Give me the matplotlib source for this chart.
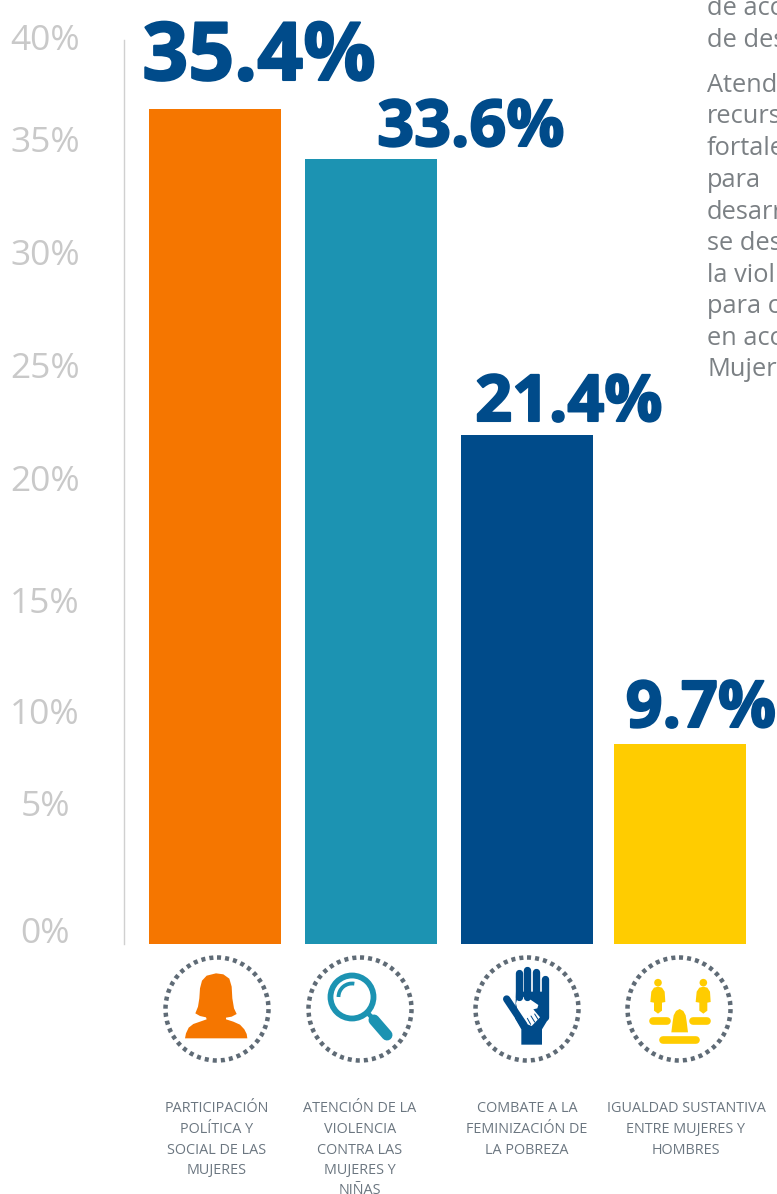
import matplotlib

matplotlib.use("Agg")
import matplotlib.pyplot as plt
import matplotlib.patheffects as pe
from matplotlib.patches import Circle, Polygon, Arc

W, H = 777, 1194
PT = 0.72  # pixels to points at dpi 100

# --------------------------- DATA --------------------------- #

value_labels = ["35.4%", "33.6%", "21.4%", "9.7%"]
# heights as drawn in the picture (the axis is not regular)
bar_heights = [35.4, 33.26, 21.56, 8.47]
bar_colors = ["#f57600", "#1c93b2", "#004b8a", "#ffcc00"]
bar_x = [215, 371, 527, 680]
bar_w = 132

tick_labels = ["40%", "35%", "30%", "25%", "20%", "15%", "10%", "5%", "0%"]
tick_rows = [37, 139, 252, 365, 478, 600, 711, 803, 930]

categories = [
    "PARTICIPACIÓN\nPOLÍTICA Y\nSOCIAL DE LAS\nMUJERES",
    "ATENCIÓN DE LA\nVIOLENCIA\nCONTRA LAS\nMUJERES Y\nNIÑAS",
    "COMBATE A LA\nFEMINIZACIÓN DE\nLA POBREZA",
    "IGUALDAD SUSTANTIVA\nENTRE MUJERES Y\nHOMBRES",
]
category_x = [217, 360, 527, 686]

# the paragraph runs off the right edge of the picture, only these pieces show
side_text = [
    ("de acc", 15),
    ("de des", 47),
    ("Atend", 92),
    ("recurs", 123),
    ("fortale", 155),
    ("para", 187),
    ("desarr", 219),
    ("se des", 250),
    ("la viol", 282),
    ("para c", 313),
    ("en acc", 345),
    ("Mujer", 376),
]

BASE_ROW = 944
PX_PER_PCT = 23.6
BLUE = "#004b8a"
GRID = "#5f6b76"

plt.rcParams["font.family"] = ["Open Sans", "DejaVu Sans"]

fig = plt.figure(figsize=(W / 100, H / 100), dpi=100)

# --------------------------- BARS --------------------------- #

ax = fig.add_axes([124 / W, 1 - BASE_ROW / H, 1 - 124 / W, (BASE_ROW - 30) / H])
ax.patch.set_alpha(0)
ax.set_xlim(124, W)
ax.set_ylim(0, (BASE_ROW - 30) / PX_PER_PCT)
ax.bar(bar_x, bar_heights, width=bar_w, color=bar_colors)

for side in ["top", "right", "bottom"]:
    ax.spines[side].set_visible(False)
ax.spines["left"].set_color("#d0d0d0")
ax.spines["left"].set_linewidth(1)
ax.spines["left"].set_bounds(0, (BASE_ROW - 40) / PX_PER_PCT)
ax.set_xticks([])
ax.set_yticks([(BASE_ROW - r) / PX_PER_PCT for r in tick_rows], tick_labels)
ax.tick_params(axis="y", length=0, pad=79 * PT, labelsize=25.5, labelcolor="#c9c9c9")
for lab in ax.get_yticklabels():
    lab.set_ha("center")

# --------------------------- OVERLAY (pixel coordinates) --------------------------- #

ov = fig.add_axes([0, 0, 1, 1])
ov.set_xlim(0, W)
ov.set_ylim(H, 0)
ov.axis("off")
ov.patch.set_alpha(0)

label_pos = [(259, 80, 58), (471, 146, 46.5), (569, 421, 46.5), (701, 727, 46.5)]
for txt, (x, y, size) in zip(value_labels, label_pos):
    ov.text(
        x,
        y,
        txt,
        color=BLUE,
        fontsize=size,
        fontweight="bold",
        ha="center",
        va="baseline",
        path_effects=[pe.withStroke(linewidth=1.5, foreground=BLUE)],
    )

for txt, row in side_text:
    ov.text(707, row, txt, color="#7b8084", fontsize=18.3, ha="left", va="baseline")

for cat, x in zip(categories, category_x):
    for i, line in enumerate(cat.split("\n")):
        ov.text(
            x,
            1109 + 20.5 * i,
            line,
            color="#6b7680",
            fontsize=10.4,
            ha="center",
            va="center",
        )

# dotted rings
for cx in [217, 360, 527, 679]:
    ov.add_patch(
        Circle(
            (cx, 1009),
            51.5,
            fill=False,
            edgecolor=GRID,
            linewidth=4.5 * PT,
            linestyle=(0, (0.9, 0.9)),
        )
    )


def z(pts, ox):
    return [(ox + a / 3, 940 + b / 3) for a, b in pts]


def stroke(pts, ox, color, width):
    p = z(pts, ox)
    ov.plot(
        [q[0] for q in p],
        [q[1] for q in p],
        color=color,
        linewidth=width / 3 * PT,
        solid_capstyle="round",
    )


# woman
woman = [
    (135, 295), (138, 280), (146, 263), (160, 252), (180, 245), (200, 238),
    (198, 232), (180, 228), (166, 220), (174, 200), (178, 175), (180, 145),
    (186, 122), (200, 107), (228, 100), (250, 103), (268, 116), (275, 140),
    (277, 175), (282, 205), (290, 222), (275, 230), (258, 233), (258, 238),
    (280, 245), (300, 254), (313, 268), (320, 282), (322, 295),
]
ov.add_patch(Polygon(z(woman, 140), closed=True, color=bar_colors[0], lw=0))

# magnifier
ov.add_patch(Circle((352, 997), 21.5, fill=False, edgecolor=bar_colors[1], linewidth=5.8 * PT))
ov.add_patch(
    Arc((352, 997), 27, 27, theta1=180, theta2=280, edgecolor=bar_colors[1], linewidth=3.8 * PT)
)
stroke([(682, 218), (705, 242)], 140, bar_colors[1], 14)
stroke([(702, 240), (741, 285)], 140, bar_colors[1], 33)

# hand
for finger in [
    [(207, 100), (207, 170)],
    [(232, 90), (232, 170)],
    [(259, 97), (259, 170)],
    [(286, 118), (286, 230)],
    [(170, 177), (222, 255)],
]:
    stroke(finger, 450, BLUE, 22)
palm = [(198, 155), (296, 155), (296, 235), (276, 268), (276, 314), (214, 314), (214, 268), (195, 235)]
ov.add_patch(Polygon(z(palm, 450), closed=True, color=BLUE, lw=0))
small_hand = [
    (205, 165), (240, 178), (265, 195), (262, 205), (250, 208), (270, 232),
    (245, 258), (225, 250), (205, 222), (198, 190),
]
ov.add_patch(Polygon(z(small_hand, 450), closed=True, color="white", lw=0))
for a, b in [[(232, 235), (242, 253)], [(243, 228), (254, 246)], [(254, 222), (264, 238)]]:
    stroke([a, b], 450, BLUE, 3)

# scale
for dx in [0, 136]:
    ov.add_patch(Circle(z([(624 + dx, 128)], 450)[0], 3.8, color=bar_colors[3], lw=0))
    body = [
        (601, 186), (604, 155), (612, 143), (624, 140), (636, 143), (644, 155),
        (646, 186), (636, 188), (636, 212), (624, 221), (612, 212), (612, 188),
    ]
    ov.add_patch(
        Polygon(z([(a + dx, b) for a, b in body], 450), closed=True, color=bar_colors[3], lw=0)
    )
for seg in [[(608, 243), (650, 243)], [(730, 243), (771, 243)], [(640, 300), (738, 300)]]:
    stroke(seg, 450, bar_colors[3], 23)
fulcrum = [
    (664, 277), (668, 245), (671, 226), (678, 213), (689, 207), (700, 213),
    (707, 226), (710, 245), (714, 277),
]
ov.add_patch(Polygon(z(fulcrum, 450), closed=True, color=bar_colors[3], lw=0))

plt.savefig("out.png", dpi=100)
